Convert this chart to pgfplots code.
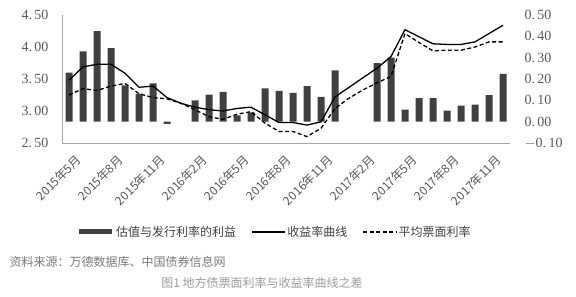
\documentclass[border=0pt]{standalone}
\usepackage{pgfplots}
\usepackage{pgfplotstable}
\pgfplotsset{compat=1.18}
\usepackage{fontspec}
\setmainfont{Liberation Serif}
\newfontfamily\cjk{Noto Sans CJK SC}
\definecolor{barc}{HTML}{404040}
\definecolor{axc}{HTML}{A6A6A6}
\definecolor{lab}{HTML}{595959}
\pgfplotsset{mylegend/.style={legend image code/.code={\draw[##1] (0bp,0bp) -- (33bp,0bp);}}}
\pgfplotstableread{
i bar yc cp
0 0.23 3.48 3.25
1 0.33 3.69 3.35
2 0.425 3.73 3.32
3 0.345 3.73 3.39
4 0.17 3.59 3.43
5 0.13 3.37 3.27
6 0.18 3.39 3.21
7 -0.01 3.21 3.19
8 nan 3.12 3.12
9 0.10 3.06 3.02
10 0.127 3.02 2.91
11 0.14 3.00 2.87
12 0.03 3.04 2.95
13 0.044 3.06 2.99
14 0.156 2.94 2.81
15 0.144 2.82 2.68
16 0.135 2.82 2.68
17 0.167 2.78 2.60
18 0.116 2.83 2.73
19 0.24 3.22 3.04
20 nan 3.37 3.20
21 nan 3.52 3.33
22 0.275 3.67 3.44
23 0.30 3.85 3.54
24 0.056 4.27 4.21
25 0.11 4.16 4.07
26 0.11 4.05 3.94
27 0.052 4.04 3.95
28 0.075 4.04 3.95
29 0.08 4.08 4.00
30 0.124 4.21 4.08
31 0.224 4.34 4.08
}\data
\begin{document}
\begin{tikzpicture}
\useasboundingbox (-62bp,-154bp) rectangle (514bp,143bp);
% bars, right axis
\begin{axis}[
  scale only axis, width=448bp, height=128bp,
  at={(0,0)}, anchor=south west,
  xmin=-0.5, xmax=31.5, ymin=-0.1, ymax=0.5,
  axis y line*=right, axis x line=none,
  y axis line style={draw=none},
  major tick length=0pt,
  ytick={-0.1,0,0.1,0.2,0.3,0.4,0.5},
  yticklabels={$-$0.\,10,0.\,00,0.\,10,0.\,20,0.\,30,0.\,40,0.\,50},
  yticklabel style={font=\fontsize{14bp}{16bp}\selectfont, text=lab, anchor=west, xshift=11bp},
  ybar, bar width=7bp,
]
\addplot[fill=barc, draw=none] table[x=i,y=bar]{\data};
\end{axis}
% lines, left axis
\begin{axis}[
  scale only axis, width=448bp, height=128bp,
  at={(0,0)}, anchor=south west,
  xmin=-0.5, xmax=31.5, ymin=2.5, ymax=4.5,
  axis y line*=left, axis x line*=bottom,
  axis line style={axc, line width=0.9pt},
  major tick length=0pt,
  ytick={2.5,3,3.5,4,4.5},
  yticklabels={2.\,50,3.\,00,3.\,50,4.\,00,4.\,50},
  yticklabel style={font=\fontsize{14bp}{16bp}\selectfont, text=lab, anchor=east, xshift=-10bp},
  xtick={0,3,...,30},
  xticklabels={2015年5月,2015年8月,2015年11月,2016年2月,2016年5月,2016年8月,2016年11月,2017年2月,2017年5月,2017年8月,2017年11月},
  xticklabel style={font=\cjk\fontsize{12bp}{13bp}\selectfont, text=lab, anchor=north east, inner sep=1bp, xshift=6bp, yshift=-9bp, rotate=45},
  legend style={at={(0.474,-0.695)}, anchor=center, draw=none, fill=none,
    legend columns=3, font=\cjk\fontsize{12bp}{14bp}\selectfont, text=barc,
    inner sep=0pt, nodes={inner sep=1.5bp},
    /tikz/every even column/.append style={column sep=14bp}},
  legend cell align=left,
  mylegend,
]
\addlegendimage{line width=5bp, color=barc}
\addlegendentry{估值与发行利率的利益}
\addplot[black, line width=1.3pt] table[x=i,y=yc]{\data};
\addlegendentry{收益率曲线}
\addplot[black, line width=1.3pt, dash pattern=on 4bp off 2.5bp] table[x=i,y=cp]{\data};
\addlegendentry{平均票面利率}
\end{axis}
\node[anchor=west, font=\cjk\fontsize{12bp}{14bp}\selectfont, text=lab!80] at (-56bp,-119bp) {资料来源：万德数据库、中国债券信息网};
\node[anchor=center, font=\cjk\fontsize{12bp}{14bp}\selectfont, text=lab!60] at (200bp,-140bp) {图1 地方债票面利率与收益率曲线之差};
\end{tikzpicture}
\end{document}
